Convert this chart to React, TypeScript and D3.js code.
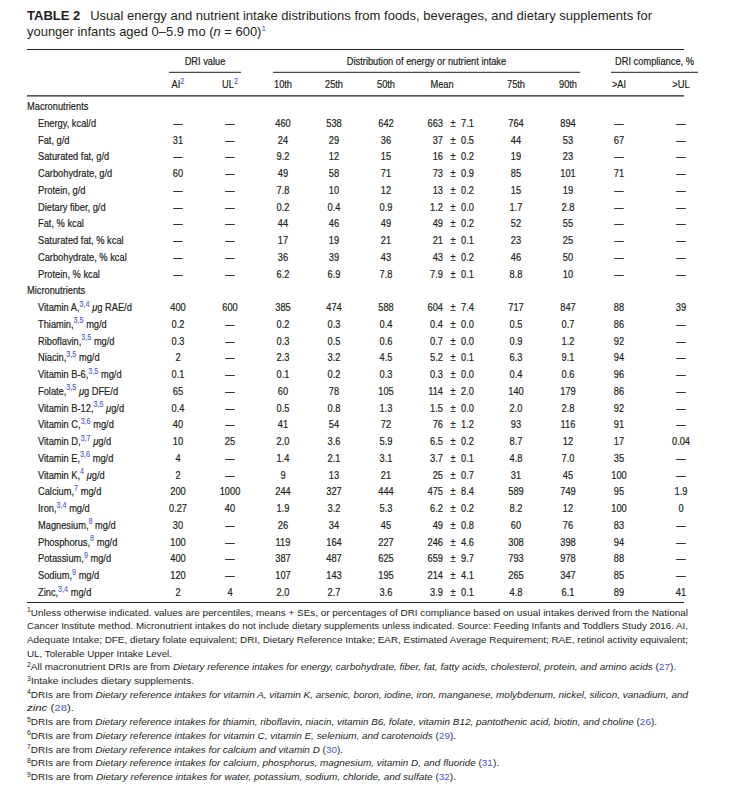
import React from "react";
import * as d3 from "d3";

const W = 735;
const H = 796;

// ---------- DATA ----------
const sectionNames = ["Macronutrients", "Micronutrients"];

const nutrientNames = [
  "Energy", "Fat", "Saturated fat", "Carbohydrate", "Protein", "Dietary fiber",
  "Fat", "Saturated fat", "Carbohydrate", "Protein",
  "Vitamin A", "Thiamin", "Riboflavin", "Niacin", "Vitamin B-6", "Folate",
  "Vitamin B-12", "Vitamin C", "Vitamin D", "Vitamin E", "Vitamin K", "Calcium",
  "Iron", "Magnesium", "Phosphorus", "Potassium", "Sodium", "Zinc",
];
const nutrientSections = [0, 0, 0, 0, 0, 0, 0, 0, 0, 0, 1, 1, 1, 1, 1, 1, 1, 1, 1, 1, 1, 1, 1, 1, 1, 1, 1, 1];
const nutrientSups = [
  "", "", "", "", "", "", "", "", "", "",
  "3,4", "3,5", "3,5", "3,5", "3,5", "3,5", "3,5", "3,6", "3,7", "3,6", "4", "7",
  "3,4", "8", "8", "9", "9", "3,4",
];
const nutrientUnits = [
  "kcal/d", "g/d", "g/d", "g/d", "g/d", "g/d", "% kcal", "% kcal", "% kcal", "% kcal",
  "μg RAE/d", "mg/d", "mg/d", "mg/d", "mg/d", "μg DFE/d", "μg/d", "mg/d", "μg/d", "mg/d",
  "μg/d", "mg/d", "mg/d", "mg/d", "mg/d", "mg/d", "mg/d", "mg/d",
];
const aiValues = [
  null, "31", null, "60", null, null, null, null, null, null,
  "400", "0.2", "0.3", "2", "0.1", "65", "0.4", "40", "10", "4", "2", "200",
  "0.27", "30", "100", "400", "120", "2",
];
const ulValues = [
  null, null, null, null, null, null, null, null, null, null,
  "600", null, null, null, null, null, null, null, "25", null, null, "1000",
  "40", null, null, null, null, "4",
];
const p10Values = [
  "460", "24", "9.2", "49", "7.8", "0.2", "44", "17", "36", "6.2",
  "385", "0.2", "0.3", "2.3", "0.1", "60", "0.5", "41", "2.0", "1.4", "9", "244",
  "1.9", "26", "119", "387", "107", "2.0",
];
const p25Values = [
  "538", "29", "12", "58", "10", "0.4", "46", "19", "39", "6.9",
  "474", "0.3", "0.5", "3.2", "0.2", "78", "0.8", "54", "3.6", "2.1", "13", "327",
  "3.2", "34", "164", "487", "143", "2.7",
];
const p50Values = [
  "642", "36", "15", "71", "12", "0.9", "49", "21", "43", "7.8",
  "588", "0.4", "0.6", "4.5", "0.3", "105", "1.3", "72", "5.9", "3.1", "21", "444",
  "5.3", "45", "227", "625", "195", "3.6",
];
const meanValues = [
  "663", "37", "16", "73", "13", "1.2", "49", "21", "43", "7.9",
  "604", "0.4", "0.7", "5.2", "0.3", "114", "1.5", "76", "6.5", "3.7", "25", "475",
  "6.2", "49", "246", "659", "214", "3.9",
];
const seValues = [
  "7.1", "0.5", "0.2", "0.9", "0.2", "0.0", "0.2", "0.1", "0.2", "0.1",
  "7.4", "0.0", "0.0", "0.1", "0.0", "2.0", "0.0", "1.2", "0.2", "0.1", "0.7", "8.4",
  "0.2", "0.8", "4.6", "9.7", "4.1", "0.1",
];
const p75Values = [
  "764", "44", "19", "85", "15", "1.7", "52", "23", "46", "8.8",
  "717", "0.5", "0.9", "6.3", "0.4", "140", "2.0", "93", "8.7", "4.8", "31", "589",
  "8.2", "60", "308", "793", "265", "4.8",
];
const p90Values = [
  "894", "53", "23", "101", "19", "2.8", "55", "25", "50", "10",
  "847", "0.7", "1.2", "9.1", "0.6", "179", "2.8", "116", "12", "7.0", "45", "749",
  "12", "76", "398", "978", "347", "6.1",
];
const gtAIValues = [
  null, "67", null, "71", null, null, null, null, null, null,
  "88", "86", "92", "94", "96", "86", "92", "91", "17", "35", "100", "95",
  "100", "83", "94", "88", "85", "89",
];
const gtULValues = [
  null, null, null, null, null, null, null, null, null, null,
  "39", null, null, null, null, null, null, null, "0.04", null, null, "1.9",
  "0", null, null, null, null, "41",
];

const columnKeys = ["ai", "ul", "p10", "p25", "p50", "mean", "p75", "p90", "gtAI", "gtUL"];
const columnLabels = ["AI", "UL", "10th", "25th", "50th", "Mean", "75th", "90th", ">AI", ">UL"];
const columnSups = ["2", "2", "", "", "", "", "", "", "", ""];
const groupLabels = ["DRI value", "Distribution of energy or nutrient intake", "DRI compliance, %"];

type Seg = { t: string; i?: boolean; b?: boolean; s?: boolean };
const footnoteLines: Seg[][] = [
  [{ t: "1", s: true }, { t: "Unless otherwise indicated. values are percentiles, means + SEs, or percentages of DRI compliance based on usual intakes derived from the National" }],
  [{ t: "Cancer Institute method. Micronutrient intakes do not include dietary supplements unless indicated. Source: Feeding Infants and Toddlers Study 2016. AI," }],
  [{ t: "Adequate Intake; DFE, dietary folate equivalent; DRI, Dietary Reference Intake; EAR, Estimated Average Requirement; RAE, retinol activity equivalent;" }],
  [{ t: "UL, Tolerable Upper Intake Level." }],
  [{ t: "2", s: true }, { t: "All macronutrient DRIs are from " }, { t: "Dietary reference intakes for energy, carbohydrate, fiber, fat, fatty acids, cholesterol, protein, and amino acids", i: true }, { t: " (" }, { t: "27", b: true }, { t: ")." }],
  [{ t: "3", s: true }, { t: "Intake includes dietary supplements." }],
  [{ t: "4", s: true }, { t: "DRIs are from " }, { t: "Dietary reference intakes for vitamin A, vitamin K, arsenic, boron, iodine, iron, manganese, molybdenum, nickel, silicon, vanadium, and", i: true }],
  [{ t: "zinc", i: true }, { t: " (" }, { t: "28", b: true }, { t: ")." }],
  [{ t: "5", s: true }, { t: "DRIs are from " }, { t: "Dietary reference intakes for thiamin, riboflavin, niacin, vitamin B6, folate, vitamin B12, pantothenic acid, biotin, and choline", i: true }, { t: " (" }, { t: "26", b: true }, { t: ")." }],
  [{ t: "6", s: true }, { t: "DRIs are from " }, { t: "Dietary reference intakes for vitamin C, vitamin E, selenium, and carotenoids", i: true }, { t: " (" }, { t: "29", b: true }, { t: ")." }],
  [{ t: "7", s: true }, { t: "DRIs are from " }, { t: "Dietary reference intakes for calcium and vitamin D", i: true }, { t: " (" }, { t: "30", b: true }, { t: ")." }],
  [{ t: "8", s: true }, { t: "DRIs are from " }, { t: "Dietary reference intakes for calcium, phosphorus, magnesium, vitamin D, and fluoride", i: true }, { t: " (" }, { t: "31", b: true }, { t: ")." }],
  [{ t: "9", s: true }, { t: "DRIs are from " }, { t: "Dietary reference intakes for water, potassium, sodium, chloride, and sulfate", i: true }, { t: " (" }, { t: "32", b: true }, { t: ")." }],
];
const footnoteLineEnds = [688, 688, 688, 172, 676, 194, 688, 74, 657, 456, 343, 499, 456];

// ---------- STYLE ----------
const INK = "#231f20";
const BLUE = "#4a56d6";
const SANS = "'Liberation Sans', Arial, sans-serif";
const SX = 0.8; // horizontal condensation for table text
const FS = 11.6;

type NTProps = {
  x: number;
  y: number;
  anchor?: "start" | "middle" | "end";
  children: React.ReactNode;
};
const NText = ({ x, y, anchor = "start", children }: NTProps) => (
  <text
    transform={`translate(${x},${y}) scale(${SX},1)`}
    textAnchor={anchor}
    fontFamily={SANS}
    fontSize={FS}
    fill={INK}
    stroke={INK}
    strokeWidth={0.22}
  >
    {children}
  </text>
);

export default function App() {
  const left = 27;
  const ruleRight = 684;

  type Row = { kind: "section"; label: string } | { kind: "item"; idx: number };
  const rows: Row[] = [];
  sectionNames.forEach((s, si) => {
    rows.push({ kind: "section", label: s });
    nutrientNames.forEach((_, i) => {
      if (nutrientSections[i] === si) rows.push({ kind: "item", idx: i });
    });
  });

  const y = d3.scaleLinear().domain([0, rows.length - 1]).range([106, 592]);
  const x = d3
    .scaleOrdinal<string, number>()
    .domain(columnKeys)
    .range([178, 230, 283, 334, 386, 442, 516, 568, 619, 681]);
  // mean column sub-positions: mean right edge, ± centre, SE right edge
  const meanRight = 443;
  const pmCenter = 453;
  const seRight = 474;

  const groupX = d3
    .scaleOrdinal<string, [number, number]>()
    .domain(groupLabels)
    .range([[169, 241], [273, 580], [611, 698]]);

  const colData: Record<string, (string | null)[]> = {
    ai: aiValues, ul: ulValues, p10: p10Values, p25: p25Values, p50: p50Values,
    p75: p75Values, p90: p90Values, gtAI: gtAIValues, gtUL: gtULValues,
  };

  const fnY = d3.scaleLinear().domain([0, footnoteLines.length - 1]).range([612, 776.5]);

  const renderUnit = (u: string) => {
    const parts = u.split("μ");
    if (parts.length === 1) return <tspan>{u}</tspan>;
    return (
      <>
        <tspan>{parts[0]}</tspan>
        <tspan fontStyle="italic">μ</tspan>
        <tspan>{parts[1]}</tspan>
      </>
    );
  };

  return (
    <svg width={W} height={H} style={{ display: "block", position: "absolute", left: 0, top: 0 }}>
      <rect width={W} height={H} fill="#fff" />
      {/* Title */}
      <text x={left} y={19.5} fontFamily={SANS} fontSize={12.6} fill={INK} textLength={652 - left} lengthAdjust="spacingAndGlyphs">
        <tspan fontWeight="bold">TABLE 2</tspan>
        <tspan dx={6}>{" Usual energy and nutrient intake distributions from foods, beverages, and dietary supplements for"}</tspan>
      </text>
      <text x={left} y={35.5} fontFamily={SANS} fontSize={12.6} fill={INK} textLength={266 - left} lengthAdjust="spacingAndGlyphs">
        <tspan>younger infants aged 0–5.9 mo (</tspan>
        <tspan fontStyle="italic">n</tspan>
        <tspan>{" = 600)"}</tspan>
        <tspan fill={BLUE} fontSize={8} dy={-5}>1</tspan>
      </text>

      {/* Rules */}
      <line x1={left} x2={ruleRight} y1={49.5} y2={49.5} stroke={INK} strokeWidth={1.2} />
      <line x1={left} x2={ruleRight} y1={95.8} y2={95.8} stroke={INK} strokeWidth={1.2} />
      <line x1={left} x2={ruleRight} y1={602.5} y2={602.5} stroke={INK} strokeWidth={1.2} />

      {/* Group headers */}
      {groupLabels.map((g) => {
        const [a, b] = groupX(g);
        return (
          <g key={g}>
            <NText x={(a + b) / 2} y={65} anchor="middle">{g}</NText>
            <line x1={a} x2={b} y1={72.3} y2={72.3} stroke={INK} strokeWidth={1} />
          </g>
        );
      })}

      {/* Column headers */}
      {columnKeys.map((k, i) => (
        <NText key={k} x={x(k)} y={88} anchor="middle">
          <tspan>{columnLabels[i]}</tspan>
          {columnSups[i] && <tspan fill={BLUE} stroke={BLUE} strokeWidth={0.1} fontSize={9} dy={-4.5}>{columnSups[i]}</tspan>}
        </NText>
      ))}

      {/* Rows */}
      {rows.map((r, ri) => {
        const yy = y(ri) + 4;
        if (r.kind === "section") {
          return (
            <NText key={"s" + ri} x={left} y={yy}>{r.label}</NText>
          );
        }
        const i = r.idx;
        return (
          <g key={"r" + ri}>
            <NText x={38} y={yy}>
              <tspan>{nutrientNames[i] + ","}</tspan>
              {nutrientSups[i] ? (
                <>
                  <tspan fill={BLUE} stroke={BLUE} strokeWidth={0.1} fontSize={9} dy={-4.5}>{nutrientSups[i]}</tspan>
                  <tspan dy={4.5}>{" "}</tspan>
                </>
              ) : (
                <tspan>{" "}</tspan>
              )}
              {renderUnit(nutrientUnits[i])}
            </NText>
            {columnKeys.map((k) => {
              if (k === "mean") {
                return (
                  <g key={k}>
                    <NText x={meanRight} y={yy} anchor="end">{meanValues[i]}</NText>
                    <NText x={pmCenter} y={yy} anchor="middle">±</NText>
                    <NText x={seRight} y={yy} anchor="end">{seValues[i]}</NText>
                  </g>
                );
              }
              const v = colData[k][i];
              return (
                <NText key={k} x={x(k)} y={yy} anchor="middle">
                  {v === null ? "—" : v}
                </NText>
              );
            })}
          </g>
        );
      })}

      {/* Footnotes */}
      {footnoteLines.map((line, li) => (
        <text
          key={"f" + li}
          x={left}
          y={fnY(li) + 3.5}
          fontFamily={SANS}
          fontSize={9.8}
          fill={INK}
          textLength={footnoteLineEnds[li] - left}
          lengthAdjust="spacingAndGlyphs"
        >
          {line.map((s, si) => {
            const prevSup = si > 0 && line[si - 1].s;
            if (s.s) {
              return (
                <tspan key={si} fontSize={6.8} dy={-3.5}>{s.t}</tspan>
              );
            }
            return (
              <tspan
                key={si}
                dy={prevSup ? 3.5 : undefined}
                fontStyle={s.i ? "italic" : undefined}
                fill={s.b ? BLUE : undefined}
              >
                {s.t}
              </tspan>
            );
          })}
        </text>
      ))}
    </svg>
  );
}
